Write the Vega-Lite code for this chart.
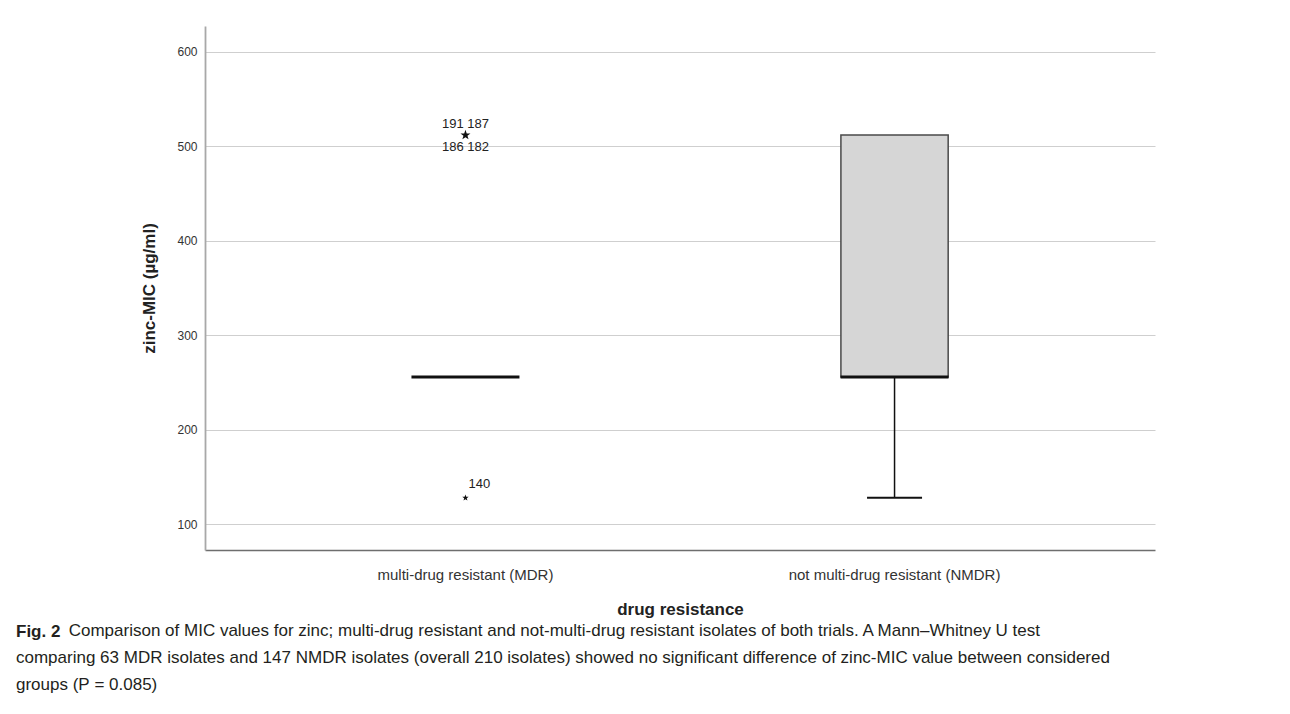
{
  "$schema": "https://vega.github.io/schema/vega-lite/v6.json",
  "autosize": "none",
  "width": 950,
  "height": 524,
  "padding": {"left": 205, "top": 26, "right": 135, "bottom": 164},
  "background": "white",
  "config": {
    "font": "Liberation Sans",
    "view": {"stroke": null}
  },
  "title": {
    "text": "Fig. 2",
    "subtitle": [
      "\u2800\u2800\u2800\u2800 Comparison of MIC values for zinc; multi-drug resistant and not-multi-drug resistant isolates of both trials. A Mann–Whitney U test",
      "comparing 63 MDR isolates and 147 NMDR isolates (overall 210 isolates) showed no significant difference of zinc-MIC value between considered",
      "groups (P\u00a0=\u00a00.085)"
    ],
    "orient": "bottom",
    "anchor": "start",
    "frame": "group",
    "dx": -189,
    "offset": 7,
    "font": "Liberation Sans",
    "fontSize": 17,
    "fontWeight": "bold",
    "color": "#231f20",
    "subtitleFont": "Liberation Sans",
    "subtitleFontSize": 17,
    "subtitleColor": "#231f20",
    "subtitleLineHeight": 27,
    "subtitlePadding": -18
  },
  "datasets": {
    "boxes": [
      {"group": "multi-drug resistant (MDR)", "lower": 256, "q1": 256, "median": 256, "q3": 256, "upper": 256},
      {"group": "not multi-drug resistant (NMDR)", "lower": 128, "q1": 256, "median": 256, "q3": 512, "upper": 512}
    ],
    "outliers": [
      {"group": "multi-drug resistant (MDR)", "id": 191, "value": 512},
      {"group": "multi-drug resistant (MDR)", "id": 187, "value": 512},
      {"group": "multi-drug resistant (MDR)", "id": 186, "value": 512},
      {"group": "multi-drug resistant (MDR)", "id": 182, "value": 512},
      {"group": "multi-drug resistant (MDR)", "id": 140, "value": 128}
    ],
    "labels": [
      {"group": "multi-drug resistant (MDR)", "value": 512, "text": "191  187", "place": "above"},
      {"group": "multi-drug resistant (MDR)", "value": 512, "text": "186  182", "place": "below"},
      {"group": "multi-drug resistant (MDR)", "value": 128, "text": "140", "place": "aboveRight"}
    ]
  },
  "encoding": {
    "x": {
      "field": "group",
      "type": "nominal",
      "scale": {
        "domain": ["multi-drug resistant (MDR)", "not multi-drug resistant (NMDR)"],
        "paddingInner": 0,
        "paddingOuter": 0.107
      },
      "axis": {
        "title": "drug resistance",
        "titleFont": "Liberation Sans",
        "titleFontSize": 17,
        "titleFontWeight": "bold",
        "titleColor": "#222",
        "titlePadding": 19,
        "labelAngle": 0,
        "labelLimit": 0,
        "labelFontSize": 15,
        "labelColor": "#333",
        "labelPadding": 17,
        "ticks": false,
        "grid": false,
        "domainColor": "#6e6e6e",
        "domainWidth": 1.5
      }
    },
    "y": {
      "type": "quantitative",
      "scale": {"domain": [72.8, 627.5], "nice": false, "zero": false},
      "axis": {
        "title": "zinc-MIC (µg/ml)",
        "titleFont": "Liberation Sans",
        "titleFontSize": 17,
        "titleFontWeight": "bold",
        "titleColor": "#222",
        "titlePadding": 18,
        "values": [100, 200, 300, 400, 500, 600],
        "labelFontSize": 12,
        "labelColor": "#333",
        "labelPadding": 8,
        "ticks": false,
        "grid": true,
        "gridColor": "#cfcfcf",
        "gridWidth": 1.2,
        "domainColor": "#a8a8a8",
        "domainWidth": 1.8
      }
    }
  },
  "layer": [
    {
      "data": {"name": "boxes"},
      "transform": [{"filter": "datum.lower < datum.q1"}],
      "mark": {"type": "rule", "color": "#111", "strokeWidth": 1.5},
      "encoding": {"y": {"field": "lower"}, "y2": {"field": "q1"}}
    },
    {
      "data": {"name": "boxes"},
      "transform": [{"filter": "datum.lower < datum.q1"}],
      "mark": {"type": "tick", "color": "#111", "opacity": 1, "size": 55, "thickness": 2},
      "encoding": {"y": {"field": "lower"}}
    },
    {
      "data": {"name": "boxes"},
      "transform": [{"filter": "datum.q1 < datum.q3"}],
      "mark": {"type": "bar", "width": {"band": 0.25}, "fill": "#d6d6d6", "stroke": "#4a4a4a", "strokeWidth": 1.5},
      "encoding": {"y": {"field": "q1"}, "y2": {"field": "q3"}}
    },
    {
      "data": {"name": "boxes"},
      "mark": {"type": "tick", "color": "#111", "opacity": 1, "size": 108, "thickness": 3},
      "encoding": {"y": {"field": "median"}}
    },
    {
      "data": {"name": "outliers"},
      "transform": [{"aggregate": [{"op": "count", "as": "n"}], "groupby": ["group", "value"]}],
      "mark": {
        "type": "point",
        "filled": true,
        "color": "#111",
        "opacity": 1,
        "shape": "M0,-1L0.24,-0.33L0.95,-0.31L0.38,0.12L0.59,0.81L0,0.4L-0.59,0.81L-0.38,0.12L-0.95,-0.31L-0.24,-0.33Z"
      },
      "encoding": {
        "y": {"field": "value"},
        "size": {"field": "n", "type": "quantitative", "scale": {"domain": [1, 4], "range": [45, 110]}, "legend": null}
      }
    },
    {
      "data": {"name": "labels"},
      "transform": [{"filter": "datum.place === 'above'"}],
      "mark": {"type": "text", "fontSize": 13, "color": "#222", "dy": -11},
      "encoding": {"y": {"field": "value"}, "text": {"field": "text"}}
    },
    {
      "data": {"name": "labels"},
      "transform": [{"filter": "datum.place === 'below'"}],
      "mark": {"type": "text", "fontSize": 13, "color": "#222", "dy": 12},
      "encoding": {"y": {"field": "value"}, "text": {"field": "text"}}
    },
    {
      "data": {"name": "labels"},
      "transform": [{"filter": "datum.place === 'aboveRight'"}],
      "mark": {"type": "text", "fontSize": 13, "color": "#222", "dx": 14, "dy": -14},
      "encoding": {"y": {"field": "value"}, "text": {"field": "text"}}
    }
  ]
}
